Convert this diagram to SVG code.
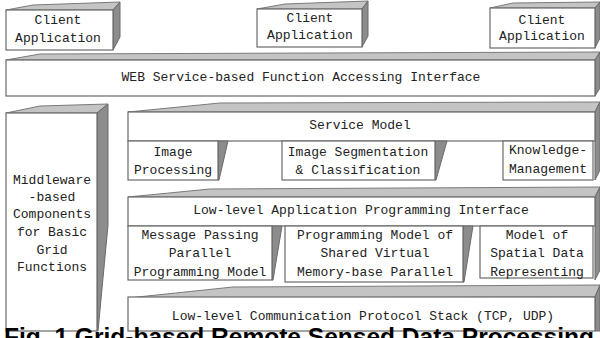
<svg xmlns="http://www.w3.org/2000/svg" width="600" height="338" viewBox="0 0 600 338">
<style>
.front{fill:#fff;stroke:#6a6a6a;stroke-width:1.2}
.top{fill:#c4c4c4;stroke:#7a7a7a;stroke-width:1}
.side{fill:#8c8c8c;stroke:#6a6a6a;stroke-width:1}
.t{font-family:"Liberation Mono","DejaVu Sans Mono",monospace;font-size:13px;fill:#222;text-anchor:middle;dominant-baseline:central}
.cap{font-family:"Liberation Sans",Arial,sans-serif;font-size:23px;font-weight:bold;fill:#000}
</style>
<rect width="600" height="338" fill="#fff"/>
<g id="connectors"/>
<g id="client1">
<polygon class="top" points="6,10 33,5 120,2 113,10"/>
<polygon class="side" points="113,10 120,2 120,37 113,50"/>
<rect class="front" x="6" y="10" width="107" height="40"/>
<text class="t" x="58" y="20">Client</text>
<text class="t" x="58" y="38">Application</text>
</g>
<g id="client2">
<polygon class="top" points="257,9 285,4 368,1 362,9"/>
<polygon class="side" points="362,9 368,1 368,36 362,47"/>
<rect class="front" x="257" y="9" width="105" height="38"/>
<text class="t" x="310" y="18">Client</text>
<text class="t" x="310" y="35">Application</text>
</g>
<g id="client3">
<polygon class="top" points="490,8 513,3 600,2 595,8"/>
<polygon class="side" points="595,8 600,2 600,38 595,48"/>
<rect class="front" x="490" y="8" width="105" height="40"/>
<text class="t" x="542" y="20">Client</text>
<text class="t" x="542" y="36">Application</text>
</g>
<g id="web-service">
<polygon class="top" points="6,60 40,54 600,52 595,60"/>
<polygon class="side" points="595,60 600,52 600,88 595,96"/>
<rect class="front" x="6" y="60" width="589" height="36"/>
<text class="t" x="301" y="77">WEB Service-based Function Accessing Interface</text>
</g>
<g id="middleware">
<polygon class="top" points="6,113 40,106 108,104 97,113"/>
<polygon class="side" points="97,113 108,104 108,225 98,331 97,331"/>
<rect class="front" x="6" y="113" width="91" height="218"/>
<text class="t" x="52" y="180">Middleware</text>
<text class="t" x="52" y="197">-based</text>
<text class="t" x="52" y="214">Components</text>
<text class="t" x="52" y="232">for Basic</text>
<text class="t" x="52" y="250">Grid</text>
<text class="t" x="52" y="267">Functions</text>
</g>
<g id="service-model">
<polygon class="top" points="128,112 220,103 600,102 595,112"/>
<polygon class="side" points="595,112 600,102 600,170 595,180"/>
<rect class="front" x="128" y="112" width="467" height="29"/>
<text class="t" x="360" y="125">Service Model</text>
</g>
<g id="image-processing">
<polygon class="side" points="218,141 228,141 219,180 218,180"/>
<rect class="front" x="128" y="141" width="90" height="39"/>
<text class="t" x="173" y="152">Image</text>
<text class="t" x="173" y="170">Processing</text>
</g>
<g id="image-segmentation">
<polygon class="side" points="435,141 447,141 436,180 435,180"/>
<rect class="front" x="282" y="141" width="153" height="39"/>
<text class="t" x="358" y="152">Image Segmentation</text>
<text class="t" x="358" y="170">&amp; Classification</text>
</g>
<g id="knowledge-management">
<rect class="front" x="503" y="141" width="90" height="39"/>
<text class="t" x="548" y="150">Knowledge-</text>
<text class="t" x="548" y="169">Management</text>
</g>
<g id="low-level-api">
<polygon class="top" points="128,197 210,189 600,187 595,197"/>
<polygon class="side" points="595,197 600,187 600,270 595,280"/>
<rect class="front" x="128" y="197" width="467" height="29"/>
<text class="t" x="361" y="210">Low-level Application Programming Interface</text>
</g>
<g id="message-passing">
<polygon class="side" points="272,226 282,226 273,280 272,280"/>
<rect class="front" x="128" y="226" width="144" height="54"/>
<text class="t" x="200" y="235">Message Passing</text>
<text class="t" x="200" y="253">Parallel</text>
<text class="t" x="200" y="272">Programming Model</text>
</g>
<g id="shared-virtual-memory">
<polygon class="side" points="463,226 473,226 464,282 463,282"/>
<rect class="front" x="285" y="226" width="178" height="56"/>
<text class="t" x="375" y="235">Programming Model of</text>
<text class="t" x="375" y="253">Shared Virtual</text>
<text class="t" x="375" y="272">Memory-base Parallel</text>
</g>
<g id="spatial-data">
<rect class="front" x="480" y="226" width="113" height="52"/>
<text class="t" x="537" y="235">Model of</text>
<text class="t" x="537" y="253">Spatial Data</text>
<text class="t" x="537" y="272">Representing</text>
</g>
<g id="communication-stack">
<polygon class="top" points="128,298 233,287 600,285 595,297"/>
<polygon class="side" points="595,297 600,285 600,331 595,331"/>
<rect class="front" x="128" y="297" width="467" height="34"/>
<text class="t" x="363" y="316">Low-level Communication Protocol Stack (TCP, UDP)</text>
</g>
<text class="cap" x="4" y="345" textLength="590" lengthAdjust="spacingAndGlyphs">Fig. 1 Grid-based Remote Sensed Data Processing</text>
</svg>
